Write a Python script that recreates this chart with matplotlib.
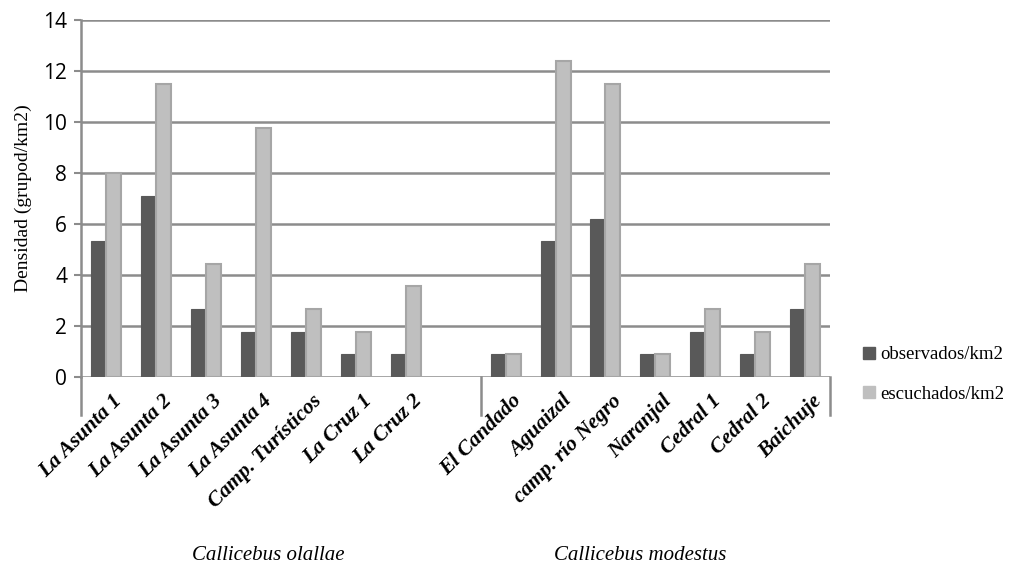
import numpy as np
import matplotlib
matplotlib.use("Agg")
import matplotlib.pyplot as plt
import matplotlib.transforms as mtransforms
from matplotlib.lines import Line2D

# sites, grouped by species (empty slot between the two groups)
sites_olallae = ["La Asunta 1", "La Asunta 2", "La Asunta 3", "La Asunta 4",
                 "Camp. Turísticos", "La Cruz 1", "La Cruz 2"]
sites_modestus = ["El Candado", "Aguaizal", "camp. río Negro", "Naranjal",
                  "Cedral 1", "Cedral 2", "Baichuje"]

obs_olallae = [5.33, 7.1, 2.67, 1.78, 1.78, 0.89, 0.89]
esc_olallae = [8.0, 11.5, 4.44, 9.75, 2.67, 1.78, 3.56]
obs_modestus = [0.89, 5.33, 6.2, 0.89, 1.78, 0.89, 2.67]
esc_modestus = [0.89, 12.4, 11.5, 0.89, 2.67, 1.78, 4.44]

groups = ["Callicebus olallae", "Callicebus modestus"]
series = ["observados/km2", "escuchados/km2"]

labels = sites_olallae + [""] + sites_modestus
obs = obs_olallae + [np.nan] + obs_modestus
esc = esc_olallae + [np.nan] + esc_modestus
x = np.arange(len(labels))

serif = "Liberation Serif"
dark = "#595959"
light = "#BFBFBF"
grid = "#8C8C8C"

fig = plt.figure(figsize=(10.3, 5.76), dpi=100)
ax = fig.add_axes([0.0786, 0.3455, 0.7275, 0.6195])

w = 0.3
ax.bar(x - w / 2, obs, w, color=dark, edgecolor=dark, linewidth=0.8, zorder=3)
ax.bar(x + w / 2, esc, w, color=light, edgecolor="#A6A6A6", linewidth=1.5, zorder=3)

ax.set_xlim(-0.5, len(labels) - 0.5)
ax.set_ylim(0, 14)
ax.set_yticks(range(0, 15, 2))
ax.yaxis.grid(True, color=grid, linewidth=1.8, zorder=0)
ax.tick_params(axis="y", labelsize=15, length=5, width=1.5, color=grid, pad=5)
for t in ax.get_yticklabels():
    t.set_family("Open Sans")

for s in ["top", "right", "bottom"]:
    ax.spines[s].set_visible(False)
ax.spines["left"].set_color(grid)
ax.spines["left"].set_linewidth(1.8)

ax.set_xticks(x)
ax.set_xticklabels(labels, rotation=45, ha="right", rotation_mode="anchor",
                   fontsize=15.5, family=serif, style="italic", weight="bold")
ax.tick_params(axis="x", length=0, pad=10)
shift = mtransforms.ScaledTranslation(6 / 100, 0, fig.dpi_scale_trans)
for t in ax.get_xticklabels():
    t.set_transform(t.get_transform() + shift)

ax.set_ylabel("Densidad (grupod/km2)", family=serif, fontsize=14, labelpad=8)

# group dividers below the axis
n1 = len(sites_olallae)
for xd in [-0.5, n1 + 0.5, len(labels) - 0.5]:
    ax.plot([xd, xd], [0, -1.5], color=grid, linewidth=1.8, clip_on=False, zorder=4)

ax.text((n1 - 1) / 2 + 0.25, -0.5, groups[0], transform=ax.get_xaxis_transform(),
        ha="center", va="center", family=serif, style="italic", fontsize=15)
ax.text((n1 + 1 + len(labels) - 1) / 2 - 0.3, -0.5, groups[1],
        transform=ax.get_xaxis_transform(),
        ha="center", va="center", family=serif, style="italic", fontsize=15)

handles = [Line2D([], [], marker="s", linestyle="", markersize=8, color=dark),
           Line2D([], [], marker="s", linestyle="", markersize=8, color=light)]
fig.legend(handles, series, loc="center left", bbox_to_anchor=(0.818, 0.35),
           frameon=False, prop={"family": serif, "size": 13.5},
           handletextpad=0.1, labelspacing=1.2, handlelength=1.0)

fig.savefig("out.png", dpi=100)
